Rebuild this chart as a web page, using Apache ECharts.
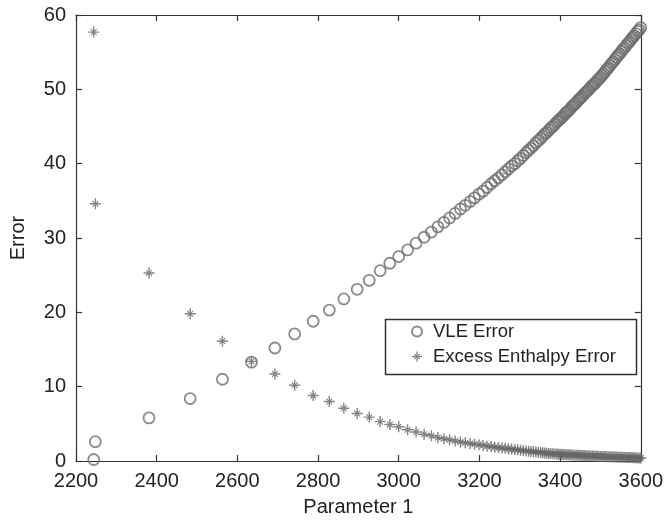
<!DOCTYPE html>
<html>
<head>
<meta charset="utf-8">
<script src="https://cdn.jsdelivr.net/npm/echarts@6/dist/echarts.min.js"></script>
<style>html,body{margin:0;padding:0;background:#fff}#c{width:666px;height:522px}</style>
</head>
<body>
<div id="c"></div>
<script>
// [Parameter 1, Error]
var vleError = [
[2244,0.2],[2248,2.6],[2381,5.8],[2483,8.4],[2563,11.0],[2635,13.3],[2693,15.2],[2742,17.1],[2788,18.8],[2828,20.3],
[2864,21.8],[2897,23.1],[2927,24.3],[2954,25.6],[2978,26.6],[3000,27.5],[3022,28.4],[3043,29.3],[3063,30.1],[3081,30.8],
[3097,31.5],[3112,32.1],[3126,32.7],[3140,33.3],[3153,33.9],[3165,34.4],[3177,34.9],[3188,35.4],[3199,35.9],[3209,36.3],
[3219,36.8],[3229,37.3],[3238,37.7],[3247,38.1],[3256,38.5],[3264,38.9],[3272,39.3],[3280,39.7],[3288,40.0],[3295,40.4],
[3302,40.7],[3309,41.1],[3316,41.5],[3322,41.8],[3328,42.1],[3334,42.4],[3340,42.8],[3346,43.1],[3352,43.4],[3357,43.7],
[3362,44.0],[3367,44.2],[3372,44.5],[3377,44.8],[3382,45.0],[3387,45.3],[3392,45.6],[3396,45.8],[3400,46.0],[3404,46.2],
[3408,46.4],[3412,46.7],[3416,46.9],[3420,47.1],[3424,47.3],[3428,47.6],[3432,47.8],[3436,48.0],[3440,48.2],[3444,48.5],
[3448,48.7],[3452,48.9],[3456,49.1],[3460,49.4],[3464,49.6],[3468,49.8],[3472,50.0],[3476,50.3],[3480,50.5],[3484,50.7],
[3488,50.9],[3492,51.2],[3496,51.4],[3500,51.6],[3504,51.9],[3508,52.1],[3512,52.4],[3516,52.7],[3520,52.9],[3524,53.2],
[3528,53.5],[3532,53.7],[3536,54.0],[3540,54.3],[3544,54.6],[3548,54.8],[3552,55.1],[3556,55.4],[3560,55.6],[3564,55.9],
[3568,56.2],[3572,56.4],[3576,56.7],[3580,57.0],[3584,57.2],[3588,57.5],[3592,57.8],[3596,58.0],[3600,58.3]
];
var enthalpyError = [
[2244,57.7],[2248,34.6],[2381,25.3],[2483,19.8],[2563,16.1],[2635,13.4],[2693,11.7],[2742,10.2],[2788,8.8],[2828,8.0],
[2864,7.1],[2897,6.4],[2927,5.9],[2954,5.3],[2978,4.9],[3000,4.6],[3022,4.2],[3043,3.9],[3063,3.6],[3081,3.4],
[3097,3.15],[3112,3.0],[3126,2.85],[3140,2.7],[3153,2.55],[3165,2.45],[3177,2.35],[3188,2.25],[3199,2.2],[3209,2.1],
[3219,2.0],[3229,1.95],[3238,1.85],[3247,1.8],[3256,1.75],[3264,1.7],[3272,1.65],[3280,1.6],[3288,1.55],[3295,1.5],
[3302,1.45],[3309,1.4],[3316,1.35],[3322,1.32],[3328,1.28],[3334,1.25],[3340,1.2],[3346,1.17],[3352,1.14],[3357,1.1],
[3362,1.07],[3367,1.05],[3372,1.02],[3377,1.0],[3382,0.98],[3387,0.96],[3392,0.94],[3396,0.92],[3400,0.9],[3404,0.89],
[3408,0.88],[3412,0.86],[3416,0.85],[3420,0.84],[3424,0.83],[3428,0.82],[3432,0.8],[3436,0.79],[3440,0.78],[3444,0.77],
[3448,0.76],[3452,0.75],[3456,0.74],[3460,0.72],[3464,0.71],[3468,0.7],[3472,0.69],[3476,0.68],[3480,0.67],[3484,0.66],
[3488,0.65],[3492,0.64],[3496,0.63],[3500,0.62],[3504,0.61],[3508,0.6],[3512,0.59],[3516,0.58],[3520,0.57],[3524,0.57],
[3528,0.56],[3532,0.55],[3536,0.54],[3540,0.53],[3544,0.52],[3548,0.51],[3552,0.5],[3556,0.5],[3560,0.49],[3564,0.48],
[3568,0.47],[3572,0.46],[3576,0.46],[3580,0.45],[3584,0.44],[3588,0.43],[3592,0.42],[3596,0.41],[3600,0.4]
];
var seriesNames = ['VLE Error', 'Excess Enthalpy Error'];
var xRange = [2200, 3600, 200];
var yRange = [0, 60, 10];
var xTitle = 'Parameter 1';
var yTitle = 'Error';

var FONT = '"Liberation Sans", Arial, Helvetica, sans-serif';
var AX = '#333';
var starPath = 'path://M-5,-0.65 L5,-0.65 L5,0.65 L-5,0.65 Z M-0.65,-5 L0.65,-5 L0.65,5 L-0.65,5 Z M-2.3,-3.0 L3.0,2.3 L2.3,3.0 L-3.0,-2.3 Z M-3.0,2.3 L2.3,-3.0 L3.0,-2.3 L-2.3,3.0 Z';

function axisBase(extra) {
  var o = {
    type: 'value',
    axisLine: {show: true, onZero: false, lineStyle: {color: AX, width: 1.2}},
    axisTick: {show: true, inside: true, length: 6, lineStyle: {color: AX, width: 1.2}},
    splitLine: {show: false},
    axisLabel: {show: true, color: '#222', fontSize: 20, fontFamily: FONT, margin: 10,
      formatter: function (v) { return String(v); }}
  };
  for (var k in extra) o[k] = extra[k];
  return o;
}

var chart = echarts.init(document.getElementById('c'), null, {renderer: 'canvas'});
chart.setOption({
  animation: false,
  backgroundColor: '#fff',
  grid: {left: 72, right: 20, top: 15, bottom: 58, containLabel: false},
  xAxis: [
    axisBase({min: xRange[0], max: xRange[1], interval: xRange[2], position: 'bottom',
      name: xTitle, nameLocation: 'middle', nameGap: 36,
      nameTextStyle: {fontSize: 20, fontFamily: FONT, color: '#222'}}),
    axisBase({min: xRange[0], max: xRange[1], interval: xRange[2], position: 'top',
      axisLabel: {show: false}})
  ],
  yAxis: [
    axisBase({min: yRange[0], max: yRange[1], interval: yRange[2], position: 'left',
      name: yTitle, nameLocation: 'middle', nameGap: 48,
      nameTextStyle: {fontSize: 20, fontFamily: FONT, color: '#222'}}),
    axisBase({min: yRange[0], max: yRange[1], interval: yRange[2], position: 'right',
      axisLabel: {show: false}})
  ],
  legend: {
    orient: 'vertical', left: 411, top: 322, padding: 0, itemGap: 6,
    itemWidth: 20, itemHeight: 10, itemGap: 6,
    textStyle: {fontSize: 18.5, fontFamily: FONT, color: '#222', lineHeight: 18, padding: [0, 0, 0, 1]},
    data: [
      {name: seriesNames[0], icon: 'circle'},
      {name: seriesNames[1], icon: starPath}
    ]
  },
  graphic: [{
    type: 'rect', left: 383, top: 317, z: 100, silent: true,
    shape: {width: 251, height: 55},
    style: {fill: 'none', stroke: '#333', lineWidth: 1.5}
  }],
  series: [
    {
      name: seriesNames[0], type: 'scatter', xAxisIndex: 0, yAxisIndex: 0,
      symbol: 'circle', symbolSize: 11,
      itemStyle: {color: 'rgba(255,255,255,0)', borderColor: '#6e6e6e', borderWidth: 1.8},
      data: vleError
    },
    {
      name: seriesNames[1], type: 'scatter', xAxisIndex: 0, yAxisIndex: 0,
      symbol: starPath, symbolSize: 11,
      itemStyle: {color: '#666'},
      data: enthalpyError
    }
  ]
});
</script>
</body>
</html>
